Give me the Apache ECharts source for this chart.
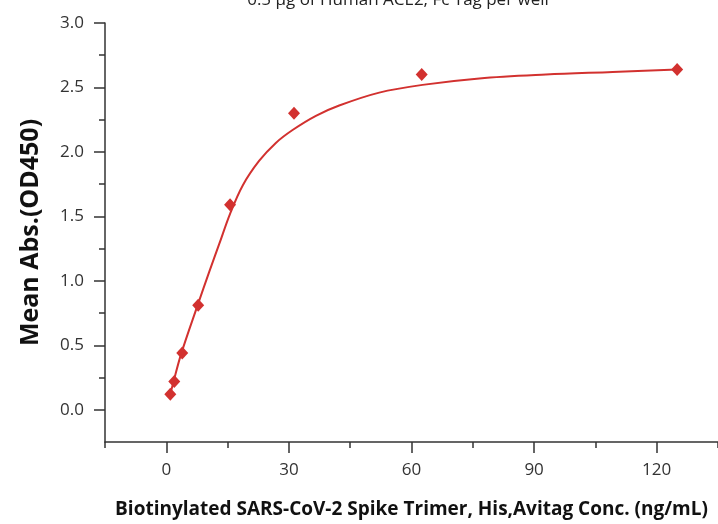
<html>
<head>
    <meta charset="utf-8">
    <title>Binding curve</title>
    <script src="https://cdn.jsdelivr.net/npm/echarts@6/dist/echarts.min.js"></script>
    <style>
        html, body { margin: 0; padding: 0; background: #fff; }
        #main { width: 718px; height: 524px; }
    </style>
</head>
<body>
    <div id='main'></div>
    <script>
        // measured points (ng/mL, OD450)
        var CONC = [0.98, 1.95, 3.9, 7.8, 15.6, 31.25, 62.5, 125]
        var OD = [0.12, 0.22, 0.44, 0.81, 1.59, 2.30, 2.60, 2.64]
        // fitted curve
        var FIT_X = [0.98, 1.7, 3.6, 7.65, 10.5, 13.0, 15.6, 18.7, 22.7, 26.8, 30.9, 36.6, 42.3, 52.1, 62.7, 76.6, 92.9, 109.2, 125]
        var FIT_Y = [0.12, 0.21, 0.43, 0.81, 1.07, 1.29, 1.52, 1.74, 1.93, 2.07, 2.17, 2.28, 2.36, 2.46, 2.52, 2.57, 2.60, 2.62, 2.64]
        // ticks
        var X_MAJOR = [0, 30, 60, 90, 120]
        var X_MINOR = [-15, 15, 45, 75, 105, 135]
        var Y_MAJOR = [0, 0.5, 1, 1.5, 2, 2.5, 3]
        var Y_MINOR = [0.25, 0.75, 1.25, 1.75, 2.25, 2.75]

        var RED = '#d2312f'
        var FONT = '"Open Sans", "Noto Sans", sans-serif'

        var myChart = echarts.init(document.getElementById('main'))
        var lineStyle = { color: '#333', width: 1.5 }

        var options = {
            animation: false,
            backgroundColor: '#fff',
            title: {
                text: '0.5 μg of Human ACE2, Fc Tag per well',
                left: 393, top: -13, textAlign: 'center',
                textStyle: { fontFamily: FONT, fontSize: 17, fontWeight: 'normal', color: '#222' },
            },
            grid: { left: 105, right: 0, top: 23, bottom: 80 },
            xAxis: [{
                type: 'value', min: -15, max: 135,
                name: 'Biotinylated SARS-CoV-2 Spike Trimer, His,Avitag Conc. (ng/mL)',
                nameLocation: 'middle', nameGap: 58,
                nameTextStyle: { fontFamily: FONT, fontSize: 19, fontWeight: 'bold', color: '#111' },
                axisLine: { onZero: false, lineStyle: lineStyle },
                axisTick: { customValues: X_MAJOR, length: 11, lineStyle: lineStyle },
                axisLabel: { customValues: X_MAJOR, margin: 20, fontFamily: FONT, fontSize: 17, color: '#333' },
                splitLine: { show: false },
            }, {
                type: 'value', min: -15, max: 135, position: 'bottom',
                axisLine: { show: false, onZero: false },
                axisTick: { customValues: X_MINOR, length: 6, lineStyle: lineStyle },
                axisLabel: { show: false },
                splitLine: { show: false },
            }],
            yAxis: [{
                type: 'value', min: -0.25, max: 3,
                name: 'Mean Abs.(OD450)',
                nameLocation: 'middle', nameGap: 62,
                nameTextStyle: { fontFamily: FONT, fontSize: 25, fontWeight: 'bold', color: '#111' },
                axisLine: { show: true, onZero: false, lineStyle: lineStyle },
                axisTick: { show: true, customValues: Y_MAJOR, length: 11, lineStyle: lineStyle },
                axisLabel: {
                    customValues: Y_MAJOR, margin: 21, fontFamily: FONT, fontSize: 17, color: '#333',
                    formatter: v => v.toFixed(1),
                },
                splitLine: { show: false },
            }, {
                type: 'value', min: -0.25, max: 3, position: 'left',
                axisLine: { show: false, onZero: false },
                axisTick: { show: true, customValues: Y_MINOR, length: 6, lineStyle: lineStyle },
                axisLabel: { show: false },
                splitLine: { show: false },
            }],
            series: [{
                type: 'line',
                data: FIT_X.map((x, i) => [x, FIT_Y[i]]),
                smooth: 0.35,
                showSymbol: false,
                lineStyle: { color: RED, width: 2 },
                z: 2,
            }, {
                type: 'scatter',
                data: CONC.map((x, i) => [x, OD[i]]),
                symbol: 'diamond',
                symbolSize: [12, 13],
                itemStyle: { color: RED, opacity: 1 },
                z: 3,
            }]
        }
        myChart.setOption(options)
    </script>
</body>
</html>
